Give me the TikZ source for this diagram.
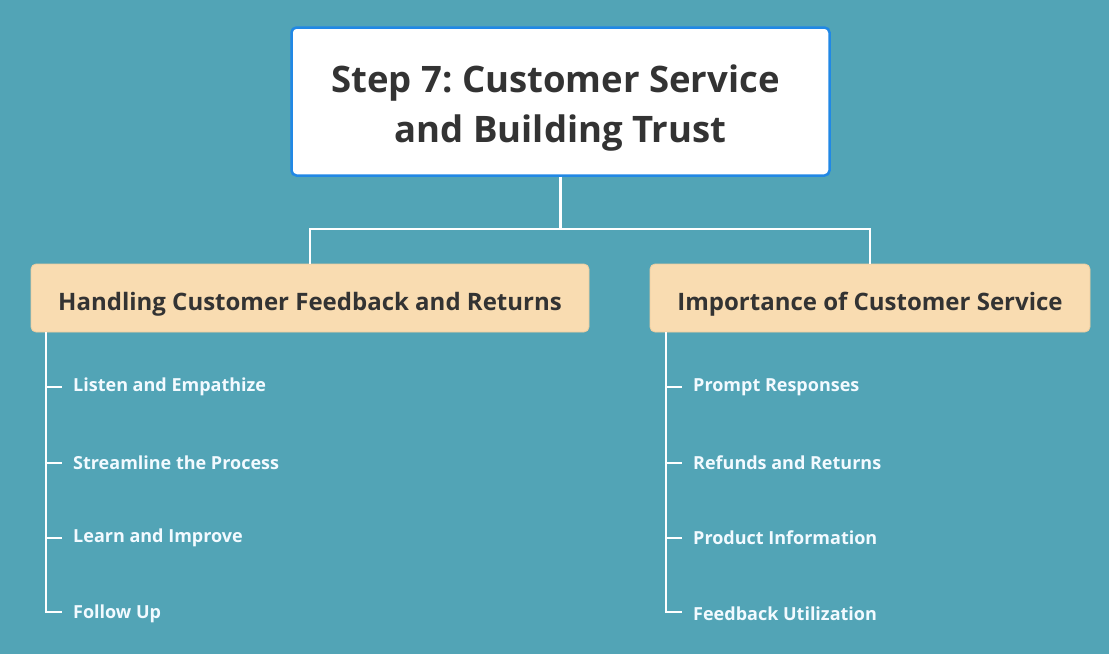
\documentclass[tikz,border=0pt]{standalone}
\usepackage{fontspec}
\setmainfont{Open Sans}
\usepackage{tikz}
\usetikzlibrary{positioning}
\frenchspacing
\definecolor{bgteal}{RGB}{82,164,182}
\definecolor{titleblue}{RGB}{33,136,229}
\definecolor{inkdark}{RGB}{51,51,51}
\definecolor{peach}{RGB}{249,220,177}
\definecolor{peachline}{RGB}{236,205,160}
\definecolor{leafwhite}{RGB}{242,250,255}
\tikzset{
  titlebox/.style = {rectangle, draw=titleblue, line width=2.5pt, fill=white,
                     rounded corners=5pt, minimum width=538pt, minimum height=148pt,
                     align=center, text=inkdark,
                     font=\fontsize{36.5}{50}\selectfont\bfseries},
  branchbox/.style = {rectangle, draw=peachline, line width=0.8pt, fill=peach,
                      rounded corners=5pt, minimum height=68pt, text=inkdark,
                      text height=24pt, text depth=0pt,
                      font=\fontsize{24}{28}\selectfont\bfseries},
  leaflabel/.style = {anchor=west, inner xsep=0pt, text=leafwhite,
                      font=\fontsize{18}{22}\selectfont\bfseries},
  linkline/.style = {draw=white, line width=2.2pt},
  tickline/.style = {draw=white, line width=1.4pt}
}

\begin{document}
\begin{tikzpicture}[x=1pt, y=-1pt]
\fill[bgteal] (0,0) rectangle (1109,654);
\useasboundingbox (0,0) rectangle (1109,654);

\node[titlebox] (title) at (560.5,101.5) {\rule{0pt}{40pt}Step 7: Customer Service\hspace*{10pt}\\ and Building Trust};
\node[branchbox, minimum width=558pt] (handling) at (310,298) {Handling Customer Feedback and Returns};
\node[branchbox, minimum width=440pt] (importance) at (870,298) {Importance of Customer Service};

% links from the title to the two branches
\draw[linkline] (title.south) -- ++(0,52) -| (handling.north);
\draw[linkline] (title.south) -- ++(0,52) -| (importance.north);

% left branch
\node[leaflabel] (listen) at (73,387) {Listen and Empathize};
\node[leaflabel] (streamline) at (73,463) {Streamline the Process};
\node[leaflabel] (learn) at (73,538) {Learn and Improve};
\node[leaflabel] (follow) at (73,614) {Follow Up};
\draw[tickline] (46,332) -- (46,612) -- (62,612);
\foreach \leaf in {listen, streamline, learn}
  \draw[tickline] (46,0 |- \leaf.west) -- (62,0 |- \leaf.west);

% right branch
\node[leaflabel] (prompt) at (693,387) {Prompt Responses};
\node[leaflabel] (refunds) at (693,463) {Refunds and Returns};
\node[leaflabel] (product) at (693,538) {Product Information};
\node[leaflabel] (feedback) at (693,614) {Feedback Utilization};
\draw[tickline] (666,332) -- (666,612) -- (682,612);
\foreach \leaf in {prompt, refunds, product}
  \draw[tickline] (666,0 |- \leaf.west) -- (682,0 |- \leaf.west);
\end{tikzpicture}
\end{document}
